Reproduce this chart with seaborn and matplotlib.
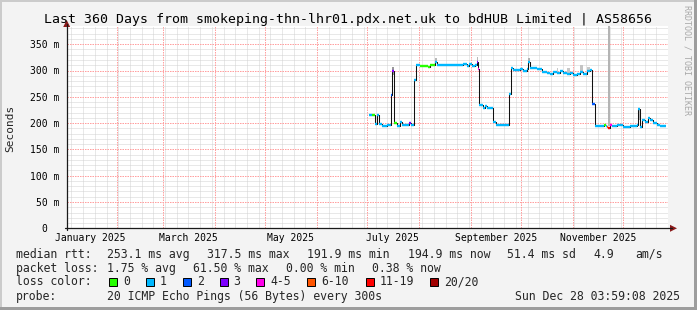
import matplotlib
matplotlib.use("Agg")
import matplotlib.pyplot as plt
import seaborn as sns
import numpy as np
import pandas as pd
from matplotlib.patches import Rectangle, Polygon
from matplotlib.lines import Line2D

# ---------------- data ----------------
end_time = pd.Timestamp("2025-12-28 03:59:08")
span_days = 360
start_time = end_time - pd.Timedelta(days=span_days)

# median rtt (ms), stepwise, day offset from start of graph
day = [181.1, 182.7, 184.5, 185.7, 187.1, 188.5, 191.5, 192.9, 193.9, 194.8,
       196.0, 197.5, 199.4, 200.5, 205.0, 206.0, 208.0, 208.8, 211.4, 216.4,
       217.4, 220.6, 221.6, 237.3, 239.4, 240.9, 242.4, 244.3, 245.3, 246.3,
       246.9, 249.3, 250.3, 251.3, 253.3, 255.1, 256.9, 258.3, 264.9, 265.9,
       267.3, 271.3, 273.2, 275.3, 276.2, 277.2, 281.2, 284.2, 287.2, 289.2,
       291.2, 293.2, 295.2, 297.2, 299.2, 301.2, 303.1, 305.2, 307.2, 309.1,
       311.2, 313.1, 314.2, 316.2, 321.6, 322.8, 323.5, 324.2, 325.2, 326.4,
       329.1, 333.1, 337.1, 341.1, 342.1, 343.1, 344.1, 346.1, 347.7, 349.1,
       351.0, 353.1, 355.1, 358.0]
median_ms = [215, 215, 199, 216, 199, 195, 197, 196, 253, 300,
             200, 195, 202, 197, 200, 197, 281, 310, 308, 306,
             310, 316, 310, 312, 308, 313, 308, 310, 316, 303,
             234, 228, 232, 228, 229, 202, 196, 197, 256, 304,
             301, 302, 300, 303, 316, 304, 302, 298, 296, 294,
             297, 295, 300, 296, 293, 296, 291, 293, 297, 294,
             299, 301, 236, 195, 197, 194, 192, 190, 196, 195,
             196, 193, 195, 197, 226, 193, 205, 203, 209, 205,
             200, 196, 195, 195]
loss_idx = [1, 0, 1, 1, 1, 1, 1, 1, 2, 3,
            0, 1, 1, 1, 3, 1, 1, 1, 0, 0,
            0, 1, 1, 1, 1, 1, 1, 1, 3, 4,
            1, 1, 1, 1, 1, 1, 1, 1, 1, 1,
            1, 1, 1, 1, 1, 1, 1, 1, 1, 1,
            1, 1, 1, 1, 1, 1, 1, 1, 1, 1,
            1, 1, 2, 1, 0, 1, 5, 6, 4, 1,
            1, 1, 1, 1, 1, 1, 1, 1, 1, 1,
            1, 1, 1, 1]

# smoke (spread of individual pings)
smoke_start = [193.9, 194.8, 220.6, 245.3, 276.2, 293.2, 299.2, 307.2, 311.2, 324.2, 342.1]
smoke_end = [194.8, 196.0, 221.6, 246.3, 277.2, 294.2, 301.2, 309.1, 313.1, 325.0, 343.1]
smoke_lo = [210, 291, 316, 316, 316, 297, 295, 297, 301, 194, 205]
smoke_hi = [253, 306, 324, 325, 324, 305, 305, 310, 307, 384, 226]
smoke_col = ["#a8a8a8", "#9a9a9a", "#b8b8b8", "#b8b8b8", "#b0b0b0", "#c8c8c8",
             "#c8c8c8", "#c4c4c4", "#c8c8c8", "#b4b4b4", "#b8b8b8"]

loss_labels = ["0", "1", "2", "3", "4-5", "6-10", "11-19", "20/20"]
loss_colors = ["#26ff00", "#00b8ff", "#0059ff", "#7e00ff", "#ff00ea", "#ff5500", "#ff0000", "#a10000"]

ytick_vals = [0, 50, 100, 150, 200, 250, 300, 350]
ytick_labels = ["0  ", "50 m", "100 m", "150 m", "200 m", "250 m", "300 m", "350 m"]
xlabel_months = [1, 3, 5, 7, 9, 11]
xlabel_text = ["January 2025", "March 2025", "May 2025", "July 2025", "September 2025", "November 2025"]

title = "Last 360 Days from smokeping-thn-lhr01.pdx.net.uk to bdHUB Limited | AS58656"
rtt_stats = [("median rtt:", 16), ("253.1 ms avg", 107.3), ("317.5 ms max", 207.3),
             ("191.9 ms min", 307.3), ("194.9 ms now", 408), ("51.4 ms sd", 507),
             ("4.9", 593), ("am/s", 635.3)]
loss_stats = [("packet loss:", 16), ("1.75 % avg", 107.3), ("61.50 % max", 193.3),
              ("0.00 % min", 286), ("0.38 % now", 372)]
probe_text = "20 ICMP Echo Pings (56 Bytes) every 300s"
stamp_text = "Sun Dec 28 03:59:08 2025"

# ---------------- figure ----------------
W, H = 697, 310
sns.set_theme(style="white")
plt.rcParams["font.family"] = ["DejaVu Sans Mono", "DejaVu Sans"]
fig = plt.figure(figsize=(W / 100, H / 100), dpi=100, facecolor="#f3f3f3")

def fx(px):
    return px / W

def fy(py):
    return 1 - py / H

ax_l, ax_r, ax_b, ax_t = 66.7, 668.3, 228.3, 26.0
ymax = (ax_b - ax_t) / 26.3 * 50
ax = fig.add_axes([fx(ax_l), fy(ax_b), fx(ax_r - ax_l), (ax_b - ax_t) / H])
ax.set_facecolor("#ffffff")
ax.set_xlim(0, span_days)
ax.set_ylim(0, ymax)
for s in ax.spines.values():
    s.set_visible(False)

def dayof(ts):
    return (ts - start_time) / pd.Timedelta(days=1)

minor_col = "#d2d2d2"
major_col = "#ffa0a0"
# grid: minor horizontal every 10, major every 50
for v in np.arange(10, ymax, 10):
    if v % 50:
        ax.axhline(v, color=minor_col, lw=0.72, ls=(0, (1, 1)), zorder=0)
for v in ytick_vals[1:]:
    ax.axhline(v, color=major_col, lw=0.72, ls=(0, (1.5, 1)), zorder=0.5)
# weekly minor vertical (Sundays), monthly major
sun = pd.Timestamp("2025-01-05")
while sun < end_time:
    d = dayof(sun)
    if 0 < d < span_days and sun.day != 1:
        ax.axvline(d, color=minor_col, lw=0.72, ls=(0, (1, 1)), zorder=0)
    sun += pd.Timedelta(days=7)
for m in range(2, 13):
    d = dayof(pd.Timestamp(2025, m, 1))
    ax.axvline(d, color=major_col, lw=0.72, ls=(0, (1.5, 1)), zorder=0.5)

# smoke
for s0, s1, lo, hi, c in zip(smoke_start, smoke_end, smoke_lo, smoke_hi, smoke_col):
    ax.bar(s0, hi - lo, bottom=lo, width=s1 - s0, align="edge", color=c, lw=0, zorder=1)

# median line (black steps) + loss colored horizontals
df = pd.DataFrame({"day": day, "rtt": median_ms})
sns.lineplot(data=df, x="day", y="rtt", drawstyle="steps-post", color="#111111",
             lw=0.75, estimator=None, sort=False, ax=ax, zorder=2)
ends = day[1:] + [day[-1] + 0.6]
ax.hlines(median_ms, day, ends, colors=[loss_colors[i] for i in loss_idx],
          lw=1.7, zorder=3, capstyle="butt")

# ticks
ax.set_yticks(ytick_vals)
ax.set_yticklabels(ytick_labels)
ax.set_xticks([dayof(pd.Timestamp(2025, m, 16)) for m in xlabel_months])
ax.set_xticklabels(xlabel_text)
ax.tick_params(axis="y", length=3, width=0.72, color=major_col, pad=2.2,
               labelsize=7, labelcolor="#000000")
ax.tick_params(axis="x", length=0, pad=3.2, labelsize=7, labelcolor="#000000")
ax.set_xlabel("")
ax.set_ylabel("")
for t in ax.get_yticklabels() + ax.get_xticklabels():
    t.set_fontfamily("DejaVu Sans Mono")

# axis lines + arrows (figure pixel coordinates)
axis_col = "#1a1a1a"
arrow_col = "#8b1a1a"
fig.add_artist(Line2D([fx(ax_l), fx(ax_l)], [fy(ax_b + 2), fy(24)], color=axis_col, lw=0.9))
fig.add_artist(Line2D([fx(ax_l - 2), fx(672)], [fy(ax_b), fy(ax_b)], color=axis_col, lw=0.9))
fig.add_artist(Polygon([[fx(ax_l), fy(20)], [fx(ax_l - 3.5), fy(27)], [fx(ax_l + 3.5), fy(27)]],
                       closed=True, color=arrow_col, lw=0))
fig.add_artist(Polygon([[fx(677), fy(ax_b)], [fx(670), fy(ax_b - 3.5)], [fx(670), fy(ax_b + 3.5)]],
                       closed=True, color=arrow_col, lw=0))

# texts
fig.text(fx(348), fy(19.3), title, ha="center", va="center", fontsize=9.5, color="#000000")
fig.text(fx(10), fy(128), "Seconds", rotation=90, ha="center", va="center", fontsize=8)
fig.text(fx(687), fy(60), "RRDTOOL / TOBI OETIKER", rotation=270, ha="center", va="center",
         fontsize=6, color="#a8a8a8")

fs = 8.3
for txt, x in rtt_stats:
    fig.text(fx(x), fy(254.3), txt, ha="left", va="center", fontsize=fs)
for txt, x in loss_stats:
    fig.text(fx(x), fy(268.3), txt, ha="left", va="center", fontsize=fs)
fig.text(fx(16), fy(281.7), "loss color:", ha="left", va="center", fontsize=fs)
box_x = [109.3, 145.7, 183, 219.7, 256.3, 307.3, 366, 430.3]
for bx, lab, col in zip(box_x, loss_labels, loss_colors):
    fig.add_artist(Rectangle((fx(bx), fy(285.7)), fx(8), 8 / H, facecolor=col,
                             edgecolor="#000000", lw=0.7))
    fig.text(fx(bx + 14), fy(281.7), lab, ha="left", va="center", fontsize=fs)
fig.text(fx(16), fy(296.3), "probe:", ha="left", va="center", fontsize=fs)
fig.text(fx(107.3), fy(296.3), probe_text, ha="left", va="center", fontsize=fs)
fig.text(fx(680), fy(296.3), stamp_text, ha="right", va="center", fontsize=fs)

# frame shading
fig.add_artist(Rectangle((0, fy(2)), 1, 2 / H, facecolor="#cbcbcb", lw=0))
fig.add_artist(Rectangle((0, 0), fx(2), 1, facecolor="#cbcbcb", lw=0))
fig.add_artist(Rectangle((0, 0), 1, 3 / H, facecolor="#9d9d9d", lw=0))
fig.add_artist(Rectangle((fx(W - 3), 0), fx(3), 1, facecolor="#9d9d9d", lw=0))

fig.savefig("out.png", dpi=100, facecolor=fig.get_facecolor())
